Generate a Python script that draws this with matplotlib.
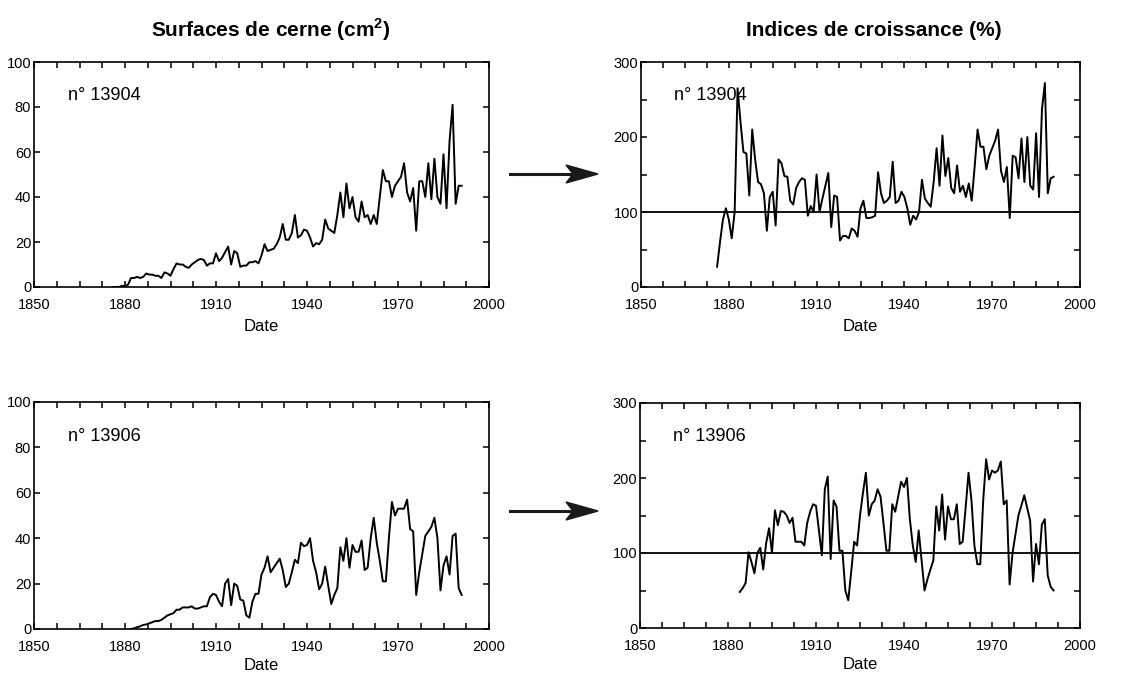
import numpy as np
import matplotlib
matplotlib.use("Agg")
import matplotlib.pyplot as plt
import matplotlib.ticker as ticker
from matplotlib.patches import Polygon

# ring surfaces (cm2) and growth indices (%)
years_13904 = list(range(1876, 1992))
surface_13904 = [
    0, 0, 0, 0.5, 0.5, 1, 4, 4, 4.5, 4, 4.5, 6, 5.5, 5.5, 5, 5, 4, 6.5, 6, 5,
    8, 10.5, 10, 10, 9, 8.5, 10, 11, 12, 12.5, 12, 9.5, 10.5, 10.5, 15, 11.5, 13, 15.5, 18, 10,
    16, 15, 9, 9.5, 9.5, 11, 11, 11.5, 10.5, 14, 19, 16, 16.5, 17, 19, 22, 28, 21, 21, 24,
    32, 22, 23, 25.5, 25, 22, 18, 19.5, 19, 21, 30, 26, 25, 24, 32, 42, 31, 46, 35, 40,
    31, 29, 38, 31, 32, 28, 32, 28, 40, 52, 47, 47, 40, 45, 47, 49, 55, 42, 38, 44,
    25, 47, 47, 40, 55, 39, 57, 40, 37, 59, 35, 65, 81, 37, 45, 45,
]
index_13904 = [
    27, 60, 90, 105, 90, 65, 100, 265, 220, 180, 178, 122, 210, 170, 140, 137, 125, 75, 120, 127,
    82, 170, 165, 148, 147, 115, 110, 132, 140, 145, 143, 95, 108, 100, 150, 100, 118, 135, 152, 80,
    122, 120, 62, 68, 68, 65, 78, 75, 67, 105, 115, 92, 92, 93, 95, 153, 125, 112, 115, 120,
    167, 112, 115, 127, 120, 105, 83, 95, 90, 100, 143, 118, 112, 107, 140, 185, 135, 202, 148, 172,
    132, 125, 162, 127, 135, 120, 138, 115, 160, 210, 187, 187, 157, 175, 185, 195, 210, 155, 140, 160,
    92, 175, 173, 145, 198, 140, 200, 135, 130, 205, 120, 237, 272, 125, 145, 147,
]

years_13906_s = list(range(1882, 1992))
surface_13906 = [
    0, 0.3, 0.8, 1.2, 1.8, 2, 2.5, 3, 3.5, 3.5, 4, 5, 6, 6.5, 7, 8.5, 8.5, 9.5, 9.5, 9.5,
    10, 9, 9, 9.5, 10, 10, 14, 15.5, 15, 12, 10, 20, 22, 10.5, 20, 19, 13, 12.5, 6, 5,
    12, 15.5, 15.5, 24, 27, 32, 25, 27, 29, 31, 26, 18.5, 20, 25, 30.5, 29, 38, 36.5, 37, 40,
    30, 25, 17.5, 20, 27.5, 19, 11, 15, 18, 36, 30, 40, 27, 37, 34, 34, 39, 26, 27, 40,
    49, 38, 30, 21, 21, 40, 56, 50, 53, 53, 53, 57, 44, 43, 15, 25, 33, 41, 43, 45,
    49, 40, 17, 28, 32, 24, 41, 42, 18, 15,
]
years_13906_i = list(range(1884, 1992))
index_13906 = [
    48, 53, 60, 101, 88, 73, 100, 107, 78, 113, 133, 100, 157, 137, 156, 155, 150, 140, 147, 115,
    115, 115, 110, 140, 155, 165, 163, 130, 97, 185, 202, 92, 170, 162, 103, 103, 50, 37, 75, 115,
    110, 150, 180, 207, 150, 165, 170, 185, 175, 140, 103, 103, 165, 155, 175, 195, 188, 200, 145, 110,
    88, 130, 90, 50, 65, 78, 90, 162, 130, 178, 118, 162, 145, 145, 165, 112, 115, 160, 207, 170,
    110, 85, 85, 170, 225, 198, 210, 207, 210, 222, 165, 170, 58, 100, 125, 150, 163, 177, 160, 143,
    62, 112, 85, 138, 145, 70, 55, 50,
]

specimens = ["n° 13904", "n° 13906"]
year_ticks = [1850, 1880, 1910, 1940, 1970, 2000]
left_title = r"Surfaces de cerne (cm$^{\mathregular{2}}$)"
right_title = "Indices de croissance (%)"

plt.rcParams["font.family"] = ["Liberation Sans", "DejaVu Sans"]
plt.rcParams["mathtext.fontset"] = "custom"
plt.rcParams["mathtext.rm"] = "Liberation Sans"
plt.rcParams["mathtext.bf"] = "Liberation Sans:bold"

W, H = 1124, 676
fig = plt.figure(figsize=(W / 100, H / 100), dpi=100)


def px_axes(x0, y0, x1, y1):
    return fig.add_axes([x0 / W, 1 - y1 / H, (x1 - x0) / W, (y1 - y0) / H])


def style(ax, ymax, ystep, yminor=None, labelpad=5):
    ax.set_xlim(1850, 2000)
    ax.set_ylim(0, ymax)
    ax.xaxis.set_major_locator(ticker.FixedLocator(year_ticks))
    ax.xaxis.set_minor_locator(ticker.FixedLocator(np.arange(1850, 2001, 7.5)))
    ax.yaxis.set_major_locator(ticker.MultipleLocator(ystep))
    if yminor:
        ax.yaxis.set_minor_locator(ticker.MultipleLocator(yminor))
    ax.tick_params(which="both", direction="in", top=True, right=True,
                   length=4, width=1.1, labelsize=10.5, pad=2)
    ax.tick_params(axis="x", pad=8)
    for s in ax.spines.values():
        s.set_linewidth(1.2)
    ax.set_xlabel("Date", fontsize=12, labelpad=labelpad)


boxes = {
    "tl": (34, 62, 489, 287),
    "tr": (641, 62, 1080, 287),
    "bl": (34, 402, 489, 629),
    "br": (640, 403, 1080, 628),
}

ax1 = px_axes(*boxes["tl"])
ax1.plot(years_13904, surface_13904, color="black", lw=1.4)
style(ax1, 100, 20)

ax2 = px_axes(*boxes["tr"])
ax2.axhline(100, color="black", lw=1.3)
ax2.plot(years_13904, index_13904, color="black", lw=1.4)
style(ax2, 300, 100, 50)

ax3 = px_axes(*boxes["bl"])
ax3.plot(years_13906_s, surface_13906, color="black", lw=1.4)
style(ax3, 100, 20, labelpad=3)

ax4 = px_axes(*boxes["br"])
ax4.axhline(100, color="black", lw=1.3)
ax4.plot(years_13906_i, index_13906, color="black", lw=1.4)
style(ax4, 300, 100, 50, labelpad=3)

for ax, name in [(ax1, specimens[0]), (ax2, specimens[0]), (ax3, specimens[1]), (ax4, specimens[1])]:
    ax.text(0.075, 0.85, name, transform=ax.transAxes, fontsize=13, va="center", ha="left")

fig.text(271 / W, 1 - 30 / H, left_title, ha="center", va="center", fontsize=15, fontweight="bold")
fig.text(874 / W, 1 - 30 / H, right_title, ha="center", va="center", fontsize=15, fontweight="bold")


# dart-shaped arrows between the columns (figure pixel space)
def arrow(y, x0=510, tip=598):
    fx = lambda x: x / W
    fy = lambda v: 1 - v / H
    fig.add_artist(plt.Line2D([fx(x0), fx(tip - 20)], [fy(y), fy(y)],
                              transform=fig.transFigure, color="#1a1a1a", lw=2.2))
    head = [(tip, y), (tip - 32, y - 9), (tip - 25, y), (tip - 32, y + 9)]
    fig.add_artist(Polygon([(fx(a), fy(b)) for a, b in head], closed=True,
                           transform=fig.transFigure, color="#1a1a1a"))


arrow(174)
arrow(511)

fig.savefig("out.png", dpi=100)
